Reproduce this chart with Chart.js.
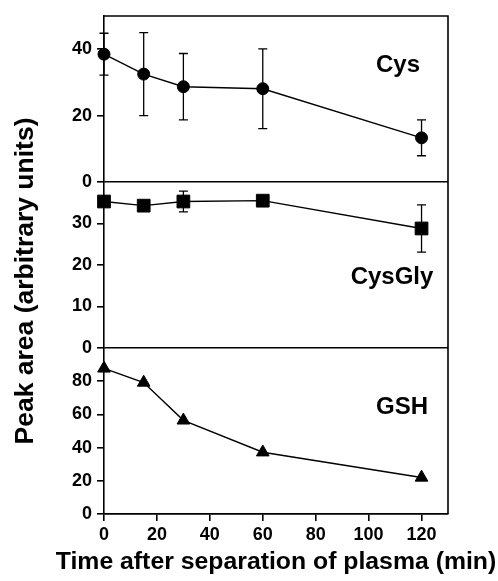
<!DOCTYPE html>
<html>
<head>
<meta charset="utf-8">
<script src="https://cdn.jsdelivr.net/npm/chart.js@4/dist/chart.umd.min.js"></script>
<style>
  html, body { margin: 0; padding: 0; background: #fff; }
  #wrap { position: relative; width: 498px; height: 581px; }
</style>
</head>
<body>
<div id="wrap"><canvas id="chart" width="498" height="581"></canvas></div>
<script>
const FONT = '"Liberation Sans", Arial, Helvetica, sans-serif';

// time points (min)
const times = [0, 15, 30, 60, 120];

// peak areas
const cys = [38.5, 32.5, 28.7, 28.1, 13.3];
const cysErr = [6.3, 12.5, 10, 12, 5.4];
const cysGly = [35.3, 34.3, 35.3, 35.5, 28.8];
const cysGlyErr = [0, 0, 2.5, 0, 5.7];
const gsh = [87.7, 79.2, 56.4, 37.2, 22];

// tick labels
const xTicks = [0, 20, 40, 60, 80, 100, 120];
const cysTicks = [0, 20, 40];
const cysGlyTicks = [0, 10, 20, 30];
const gshTicks = [0, 20, 40, 60, 80];

const panelNames = ['Cys', 'CysGly', 'GSH'];
const xTitle = 'Time after separation of plasma (min)';
const yTitle = 'Peak area (arbitrary units)';

function pts(ys) { return times.map((t, i) => ({x: t, y: ys[i]})); }
function setTicks(list) { return scale => { scale.ticks = list.map(v => ({value: v})); }; }

function series(data, yAxisID, style, radius, err) {
  return {
    data: pts(data), yAxisID, errors: err,
    borderColor: '#000', borderWidth: 1.4,
    pointStyle: style, pointRadius: radius, pointHoverRadius: radius,
    pointBackgroundColor: '#000', pointBorderColor: '#000', pointBorderWidth: 1,
    clip: false, tension: 0
  };
}

function yAxis(max, ticks) {
  return {
    type: 'linear', position: 'left', stack: 'panels', stackWeight: 1,
    min: 0, max,
    afterBuildTicks: setTicks(ticks),
    afterFit: s => { s.width = 104; },
    ticks: { color: '#000', padding: 5, autoSkip: false, font: { family: FONT, size: 18, weight: 'bold' } },
    grid: {
      color: c => (c.tick && c.tick.value === 0) ? '#000' : 'rgba(0,0,0,0)',
      tickColor: '#000', tickLength: 7, lineWidth: 1.6
    },
    border: { color: '#000', width: 1.6 }
  };
}

const errorBars = {
  id: 'errorBars',
  beforeDatasetsDraw(chart) {
    const ctx = chart.ctx;
    const xs = chart.scales.x;
    ctx.save();
    ctx.strokeStyle = '#000';
    ctx.lineWidth = 1.3;
    chart.data.datasets.forEach(ds => {
      if (!ds.errors) return;
      const ys = chart.scales[ds.yAxisID];
      ds.data.forEach((p, i) => {
        const e = ds.errors[i];
        if (!e) return;
        const px = xs.getPixelForValue(p.x);
        const top = ys.getPixelForValue(p.y + e);
        const bot = ys.getPixelForValue(p.y - e);
        ctx.beginPath();
        ctx.moveTo(px, top); ctx.lineTo(px, bot);
        ctx.moveTo(px - 4.5, top); ctx.lineTo(px + 4.5, top);
        ctx.moveTo(px - 4.5, bot); ctx.lineTo(px + 4.5, bot);
        ctx.stroke();
      });
    });
    ctx.restore();
  }
};

const frameAndLabels = {
  id: 'frameAndLabels',
  afterDraw(chart) {
    const ctx = chart.ctx;
    const a = chart.chartArea;
    ctx.save();
    ctx.strokeStyle = '#000';
    ctx.lineWidth = 1.6;
    ctx.beginPath();
    ctx.moveTo(a.left, a.top); ctx.lineTo(a.right, a.top); ctx.lineTo(a.right, a.bottom);
    ctx.stroke();

    ctx.fillStyle = '#000';
    ctx.textAlign = 'center';
    ctx.textBaseline = 'middle';
    ctx.font = 'bold 24px ' + FONT;
    const ids = ['yCys', 'yCysGly', 'yGsh'];
    const dx = [-50, -56, -46];
    const dy = [49, 95, 59];
    ids.forEach((id, i) => {
      const s = chart.scales[id];
      ctx.fillText(panelNames[i], a.right + dx[i], s.top + dy[i]);
    });

    // x title
    ctx.font = 'bold 24.8px ' + FONT;
    ctx.fillText(xTitle, (a.left + a.right) / 2, a.bottom + 48);

    // y title
    ctx.font = 'bold 26.5px ' + FONT;
    ctx.translate(26, (a.top + a.bottom) / 2 + 16);
    ctx.rotate(-Math.PI / 2);
    ctx.fillText(yTitle, 0, 0);
    ctx.restore();
  }
};

new Chart(document.getElementById('chart'), {
  type: 'line',
  data: {
    datasets: [
      series(gsh, 'yGsh', 'triangle', 7.3, null),
      series(cysGly, 'yCysGly', 'rect', 9, cysGlyErr),
      series(cys, 'yCys', 'circle', 6, cysErr)
    ]
  },
  options: {
    responsive: false,
    animation: false,
    layout: { padding: { left: 0, top: 16, right: 50, bottom: 0 } },
    plugins: { legend: { display: false }, tooltip: { enabled: false } },
    scales: {
      x: {
        type: 'linear', position: 'bottom', min: 0, max: 130,
        afterBuildTicks: setTicks(xTicks),
        afterFit: s => { s.height = 67; },
        ticks: { color: '#000', padding: 3, autoSkip: false, font: { family: FONT, size: 18, weight: 'bold' } },
        grid: { drawOnChartArea: false, color: '#000', tickLength: 7, lineWidth: 1.6 },
        border: { color: '#000', width: 1.6 }
      },
      yGsh: yAxis(100, gshTicks),
      yCysGly: yAxis(40, cysGlyTicks),
      yCys: yAxis(50, cysTicks)
    }
  },
  plugins: [errorBars, frameAndLabels]
});
</script>
</body>
</html>
